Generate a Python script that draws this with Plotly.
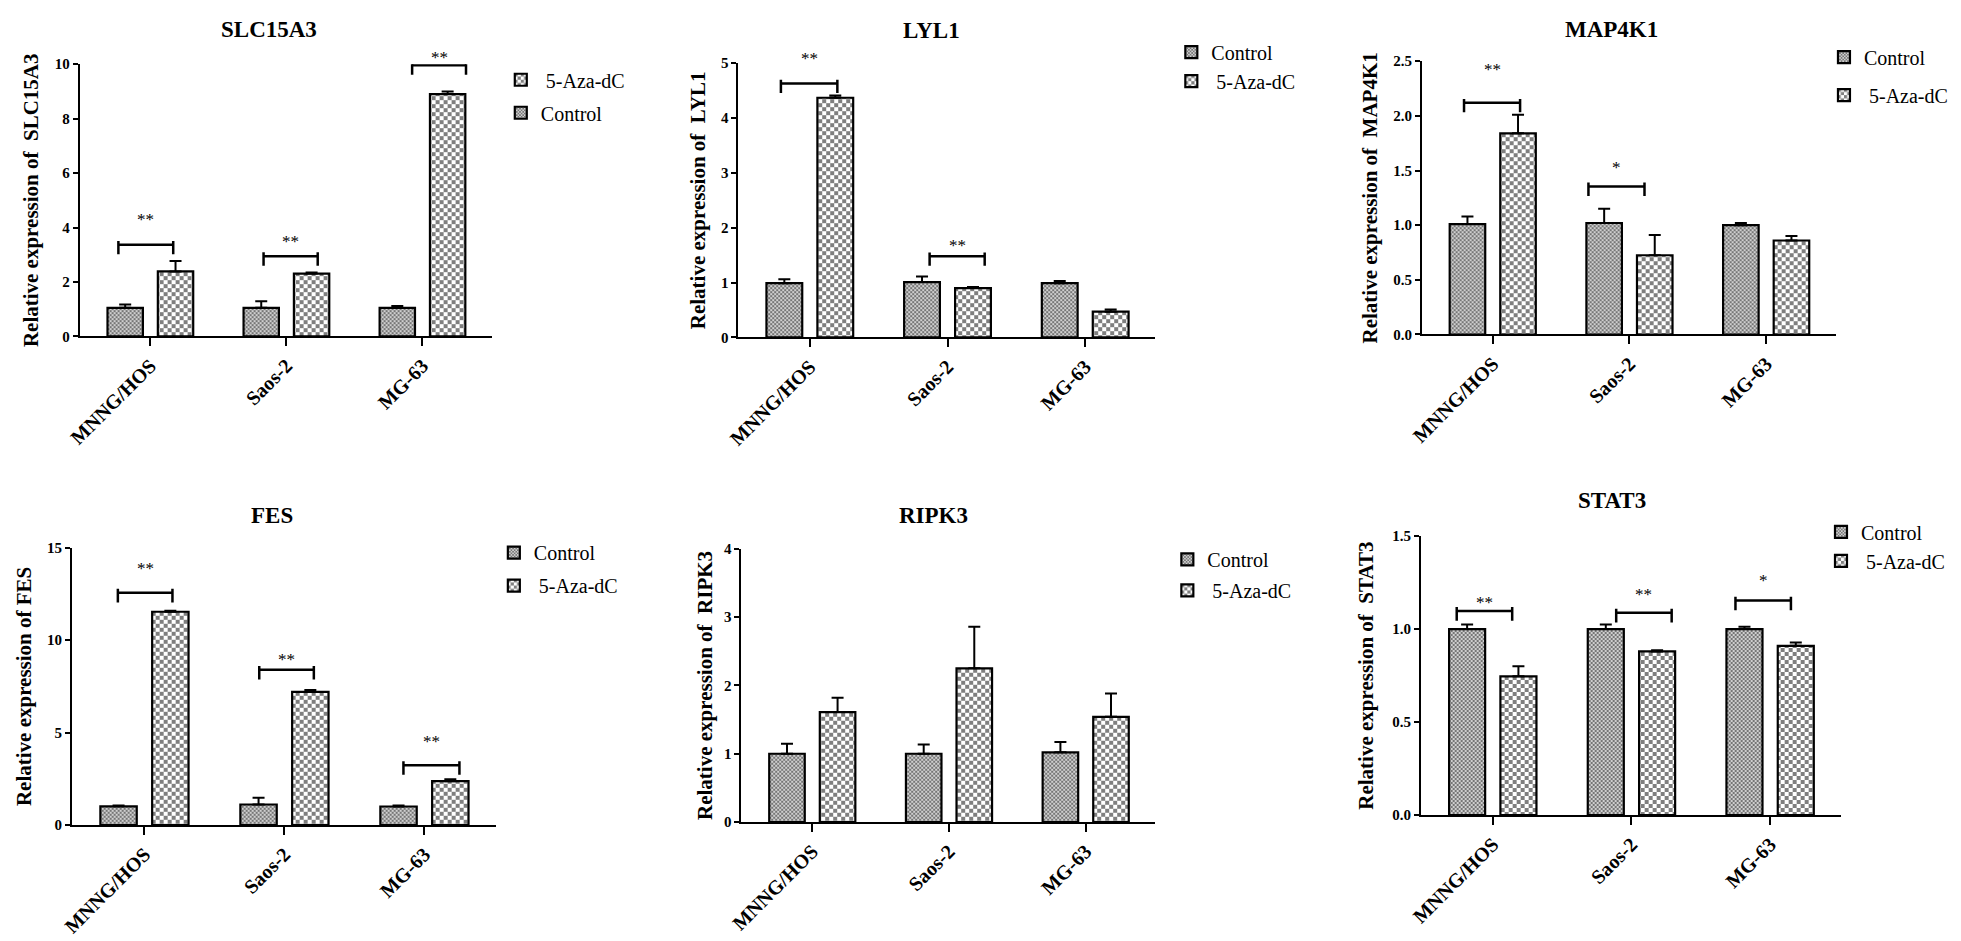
import plotly.graph_objects as go

W, H = 1961, 941

categories = ["MNNG/HOS", "Saos-2", "MG-63"]
genes = ["SLC15A3", "LYL1", "MAP4K1", "FES", "RIPK3", "STAT3"]
ytitles = ["Relative expression of  SLC15A3", "Relative expression of  LYL1",
           "Relative expression of  MAP4K1", "Relative expression of FES",
           "Relative expression of  RIPK3", "Relative expression of  STAT3"]

# ---- data (mean, upper SE) ----
slc_control = [1.05, 1.05, 1.05]
slc_control_err = [0.12, 0.24, 0.07]
slc_aza = [2.39, 2.31, 8.90]
slc_aza_err = [0.38, 0.04, 0.10]

lyl_control = [0.99, 1.01, 0.99]
lyl_control_err = [0.07, 0.10, 0.04]
lyl_aza = [4.37, 0.90, 0.47]
lyl_aza_err = [0.04, 0.02, 0.04]

map_control = [1.01, 1.02, 1.00]
map_control_err = [0.07, 0.13, 0.02]
map_aza = [1.84, 0.725, 0.86]
map_aza_err = [0.17, 0.185, 0.04]

fes_control = [1.01, 1.11, 1.00]
fes_control_err = [0.05, 0.36, 0.06]
fes_aza = [11.54, 7.20, 2.37]
fes_aza_err = [0.05, 0.11, 0.11]

ripk_control = [1.00, 1.00, 1.02]
ripk_control_err = [0.145, 0.135, 0.15]
ripk_aza = [1.61, 2.25, 1.54]
ripk_aza_err = [0.21, 0.61, 0.34]

stat_control = [1.00, 1.00, 1.00]
stat_control_err = [0.025, 0.025, 0.012]
stat_aza = [0.746, 0.88, 0.91]
stat_aza_err = [0.054, 0.006, 0.018]

controls = [slc_control, lyl_control, map_control, fes_control, ripk_control, stat_control]
controls_err = [slc_control_err, lyl_control_err, map_control_err, fes_control_err, ripk_control_err, stat_control_err]
azas = [slc_aza, lyl_aza, map_aza, fes_aza, ripk_aza, stat_aza]
azas_err = [slc_aza_err, lyl_aza_err, map_aza_err, fes_aza_err, ripk_aza_err, stat_aza_err]

y_max = [10, 5, 2.5, 15, 4, 1.5]
y_dtick = [2, 1, 0.5, 5, 1, 0.5]
y_format = ["d", "d", ".1f", "d", "d", ".1f"]

# significance: (category index, left, right, bracket y, label, label y)
significance = [
    [(0, -0.235, 0.168, 3.37, "**", 4.28), (1, -0.168, 0.23, 2.95, "**", 3.48), (2, -0.076, 0.32, 9.96, "**", 10.24)],
    [(0, -0.21, 0.2, 4.63, "**", 5.09), (1, -0.13, 0.27, 1.48, "**", 1.67)],
    [(0, -0.21, 0.2, 2.12, "**", 2.42), (1, -0.3, 0.11, 1.355, "*", 1.53)],
    [(0, -0.19, 0.2, 12.57, "**", 13.9), (1, -0.18, 0.21, 8.4, "**", 8.94), (2, -0.15, 0.25, 3.24, "**", 4.51)],
    [],
    [(0, -0.26, 0.14, 1.097, "**", 1.144), (1, -0.11, 0.29, 1.088, "**", 1.188), (2, -0.25, 0.15, 1.153, "*", 1.262)],
]

# legend order: first panel lists 5-Aza-dC above Control
legend_aza_first = [True, False, False, False, False, False]

# ---- layout geometry (pixels) ----
plot_boxes = [  # x0, x1, ytop, yzero
    (59, 474, 49, 326),
    (722, 1142, 48, 327),
    (1410, 1827, 46, 324),
    (51, 478, 541, 823),
    (725, 1142, 542, 820),
    (1409, 1832, 529, 813),
]
title_pos = [(250, 14), (917, 15), (1601, 14), (253, 508), (919, 508), (1602, 493)]
legend_pos = [(483, 45, 4), (1158, 17, 0), (1815, 22, 9), (476, 526, 4), (1154, 533, 2), (1812, 505, 0)]
title_standoff = [10, 10, 10, 10, 6, 13]

FONT = "Liberation Serif, Times New Roman, serif"


def checker(size):
    h = size / 2
    return f"M0,0H{h}V{h}H0Z M{h},{h}H{size}V{size}H{h}Z"


fig = go.Figure()
layout = dict(
    width=W, height=H, margin=dict(l=0, r=0, t=0, b=0),
    paper_bgcolor="white", plot_bgcolor="white",
    barmode="overlay", showlegend=True,
    font=dict(family=FONT, color="black"),
)
annotations = []
shapes = []

for i in range(6):
    sfx = "" if i == 0 else str(i + 1)
    xa, ya = "x" + sfx, "y" + sfx
    lg = "legend" + sfx
    x0, x1, yt, yb = plot_boxes[i]
    rank_c, rank_a = (2, 1) if legend_aza_first[i] else (1, 2)

    fig.add_trace(go.Bar(
        x=categories, y=controls[i], name="Control", xaxis=xa, yaxis=ya, legend=lg,
        legendgroup=f"c{i}", legendrank=rank_c, offset=-0.315, width=0.26,
        marker=dict(color="white", line=dict(color="black", width=2.2),
                    pattern=dict(path=checker(4), size=4, fgcolor="#1e1e1e", bgcolor="#cfcfcf")),
        error_y=dict(type="data", array=controls_err[i], arrayminus=[0, 0, 0], symmetric=False,
                     color="black", thickness=2, width=6),
    ))
    fig.add_trace(go.Bar(
        x=categories, y=azas[i], name=" 5-Aza-dC", xaxis=xa, yaxis=ya, legend=lg,
        legendgroup=f"a{i}", legendrank=rank_a, offset=0.055, width=0.26,
        marker=dict(color="white", line=dict(color="black", width=2.2),
                    pattern=dict(path=checker(8), size=8, fgcolor="black", bgcolor="white")),
        error_y=dict(type="data", array=azas_err[i], arrayminus=[0, 0, 0], symmetric=False,
                     color="black", thickness=2, width=6),
    ))

    layout["xaxis" + sfx] = dict(
        domain=[x0 / W, x1 / W], anchor=ya, type="category",
        range=[-0.52, 2.51], showline=True, linecolor="black", linewidth=1.5,
        ticks="outside", ticklen=8, tickwidth=1.5, tickcolor="black",
        tickangle=-45, showgrid=False, zeroline=False,
        tickfont=dict(family=FONT, size=20, color="black", weight="bold"),
    )
    layout["yaxis" + sfx] = dict(
        domain=[1 - yb / H, 1 - yt / H], anchor=xa,
        range=[0, y_max[i]], dtick=y_dtick[i], tick0=0, tickformat=y_format[i],
        showline=True, linecolor="black", linewidth=1.5,
        ticks="outside", ticklen=5, tickwidth=1.5, tickcolor="black",
        showgrid=False, zeroline=False,
        tickfont=dict(family=FONT, size=15, color="black", weight="bold"),
        title=dict(text=ytitles[i], standoff=title_standoff[i],
                   font=dict(family=FONT, size=21, color="black", weight="bold")),
    )
    lx, ly, gap = legend_pos[i]
    layout[lg] = dict(
        x=lx / W, y=1 - ly / H, xanchor="left", yanchor="top",
        bgcolor="rgba(0,0,0,0)", tracegroupgap=gap, traceorder="grouped",
        font=dict(family=FONT, size=20, color="black"),
    )

    tx, ty = title_pos[i]
    annotations.append(dict(
        text=genes[i], x=tx / W, y=1 - ty / H, xref="paper", yref="paper",
        xanchor="center", yanchor="middle", showarrow=False,
        font=dict(family=FONT, size=23, color="black", weight="bold"),
    ))

    tick_h = y_max[i] * 0.035
    for (ci, left, right, by, label, labely) in significance[i]:
        xl, xr = ci + left, ci + right
        shapes.append(dict(type="line", xref=xa, yref=ya, x0=xl, x1=xr, y0=by, y1=by,
                           line=dict(color="black", width=2.5)))
        for xe in (xl, xr):
            shapes.append(dict(type="line", xref=xa, yref=ya, x0=xe, x1=xe,
                               y0=by - tick_h, y1=by + tick_h * 0.4,
                               line=dict(color="black", width=2.5)))
        # label placed in axis-domain units so it stays visible above the axis range
        annotations.append(dict(
            text=label, x=(xl + xr) / 2, y=labely / y_max[i], xref=xa, yref=ya + " domain",
            xanchor="center", yanchor="middle", showarrow=False,
            font=dict(family=FONT, size=17, color="black"),
        ))

layout["annotations"] = annotations
layout["shapes"] = shapes
fig.update_layout(**layout)
fig.write_html("out.html")
